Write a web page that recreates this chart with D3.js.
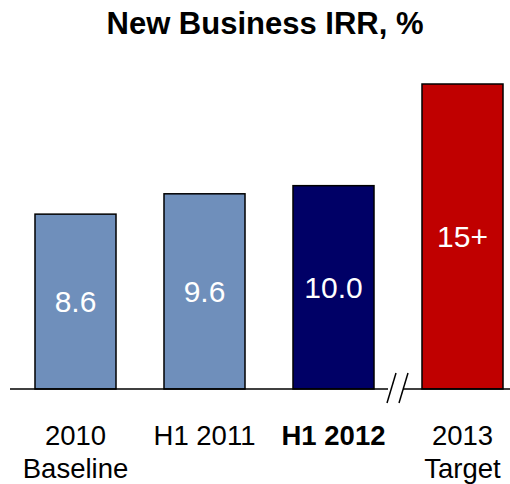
<!DOCTYPE html>
<html>
<head>
<meta charset="utf-8">
<script src="https://cdn.jsdelivr.net/npm/d3@7"></script>
<style>
  body { margin: 0; background: #fff; }
  svg { display: block; font-family: Arial, "Liberation Sans", sans-serif; }
</style>
</head>
<body>
<svg id="chart" width="510" height="484"></svg>
<script>
/* ------------ Data ----------------*/
const categories = ['2010|Baseline', 'H1 2011', 'H1 2012', '2013|Target'];
const values = [8.6, 9.6, 10.0, 15];
const valueLabels = ['8.6', '9.6', '10.0', '15+'];
const barColors = ['#6f8fbb', '#6f8fbb', '#000066', '#c00000'];
const boldCategory = ['H1 2012'];

/* ------------ Setup ----------------*/
const svg = d3.select('#chart');
const baseY = 389;

const x = d3.scaleBand()
  .domain(categories)
  .range([11, 527])
  .paddingInner(0.372)
  .paddingOuter(0.186);

const y = d3.scaleLinear()
  .domain([0, 15])
  .range([baseY, 84]);

svg.append('text')
  .attr('x', 265)
  .attr('y', 34)
  .attr('text-anchor', 'middle')
  .attr('font-size', '31px')
  .attr('font-weight', 'bold')
  .attr('fill', '#000')
  .text('New Business IRR, %');

/* ------------ Bars ----------------*/
svg.selectAll('.bar')
  .data(values)
  .join('rect')
  .attr('class', 'bar')
  .attr('x', (d, i) => x(categories[i]))
  .attr('y', d => y(d))
  .attr('width', x.bandwidth())
  .attr('height', d => y(0) - y(d))
  .attr('fill', (d, i) => barColors[i])
  .attr('stroke', '#000')
  .attr('stroke-width', 1.5);

svg.selectAll('.value')
  .data(values)
  .join('text')
  .attr('class', 'value')
  .attr('x', (d, i) => x(categories[i]) + x.bandwidth() / 2)
  .attr('y', d => (y(d) + y(0)) / 2 + 10.7)
  .attr('text-anchor', 'middle')
  .attr('font-size', '30px')
  .attr('fill', '#fff')
  .text((d, i) => valueLabels[i]);

/* ------------ Axis with break ----------------*/
const breakX = (x(categories[2]) + x.bandwidth() + x(categories[3])) / 2;
svg.append('line')
  .attr('x1', 10).attr('x2', breakX - 10)
  .attr('y1', baseY).attr('y2', baseY)
  .attr('stroke', '#000').attr('stroke-width', 1.5);
svg.append('line')
  .attr('x1', breakX + 5).attr('x2', 510)
  .attr('y1', baseY).attr('y2', baseY)
  .attr('stroke', '#000').attr('stroke-width', 1.5);
[-6, 6].forEach(off => {
  svg.append('line')
    .attr('x1', breakX + off - 5).attr('y1', baseY + 14)
    .attr('x2', breakX + off + 4).attr('y2', baseY - 16)
    .attr('stroke', '#000').attr('stroke-width', 1.5);
});

/* ------------ Category labels ----------------*/
const labels = svg.selectAll('.cat')
  .data(categories)
  .join('text')
  .attr('class', 'cat')
  .attr('text-anchor', 'middle')
  .attr('font-size', '27.5px')
  .attr('fill', '#000')
  .attr('font-weight', d => boldCategory.includes(d) ? 'bold' : 'normal');

labels.each(function (d) {
  const cx = x(d) + x.bandwidth() / 2;
  d3.select(this).selectAll('tspan')
    .data(d.split('|'))
    .join('tspan')
    .attr('x', cx)
    .attr('y', (t, j) => 445 + j * 33)
    .text(t => t);
});
</script>
</body>
</html>
